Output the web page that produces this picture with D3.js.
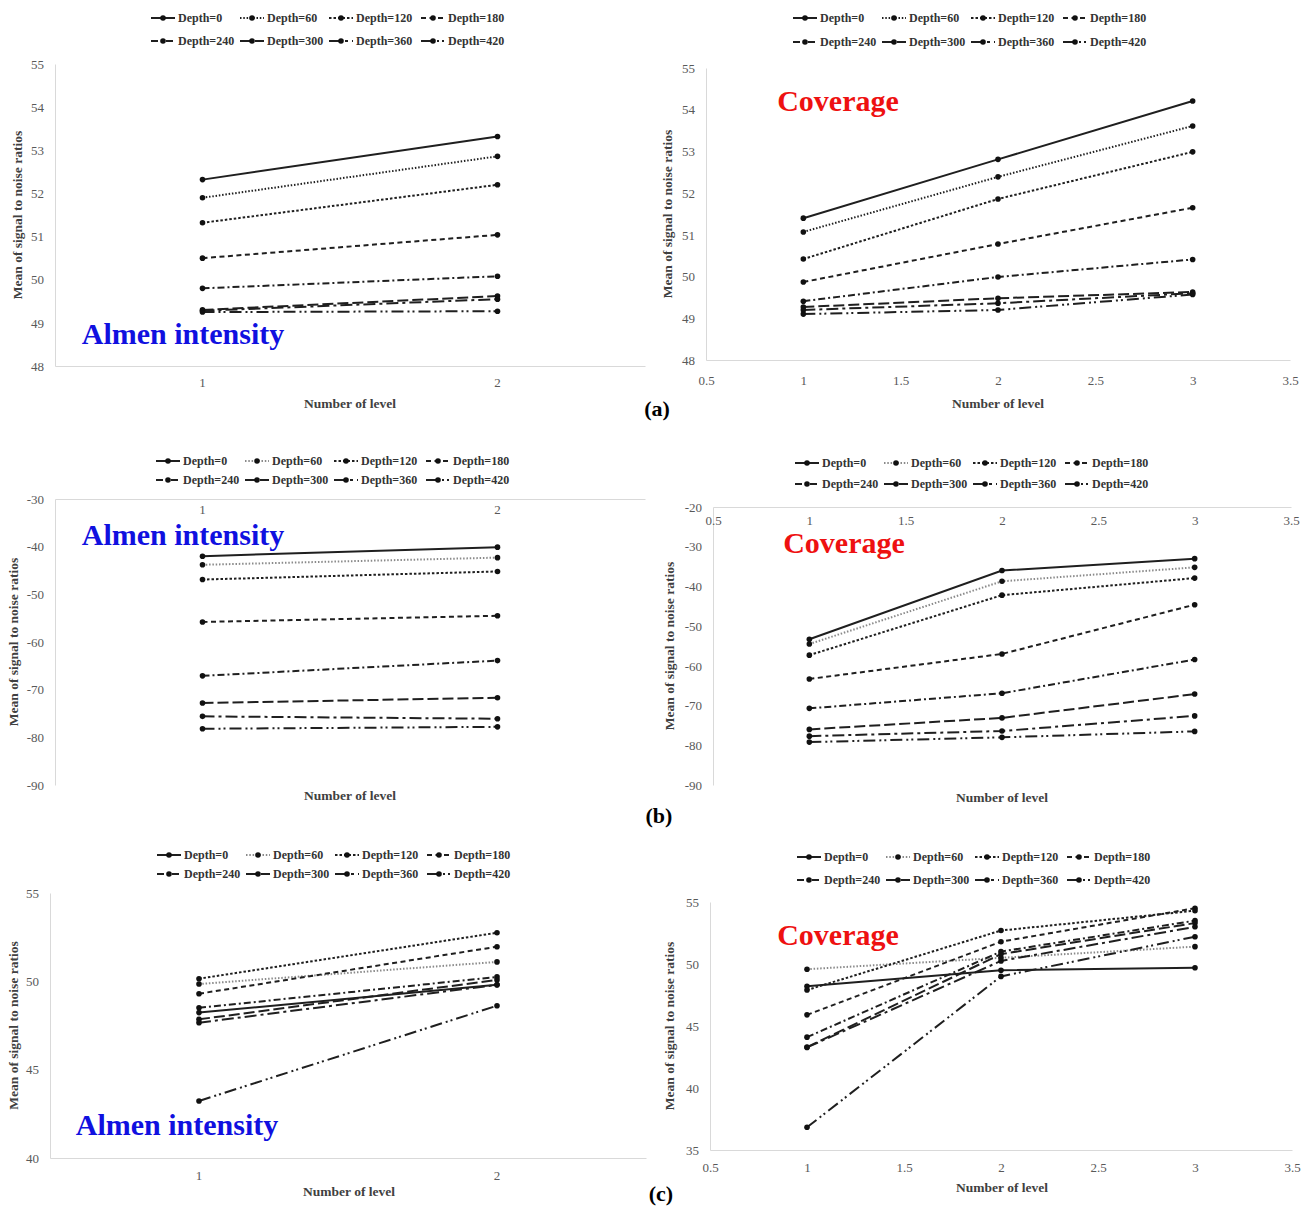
<!DOCTYPE html>
<html>
<head>
<meta charset="utf-8">
<script src="https://cdn.jsdelivr.net/npm/d3@7"></script>
<style>
	body { margin: 0; background: #fff; }
	svg { display: block; }
	text { font-family: "Liberation Serif", "Times New Roman", serif; }
</style>
</head>
<body>
<svg id="chart" width="1314" height="1208"></svg>
<script>
// series names and x categories
const depths = ["Depth=0", "Depth=60", "Depth=120", "Depth=180", "Depth=240", "Depth=300", "Depth=360", "Depth=420"];
const almenLevels = [1, 2];
const coverageLevels = [1, 2, 3];

// tick labels
const coverageTicks = [0.5, 1, 1.5, 2, 2.5, 3, 3.5];
const ticksA = [48, 49, 50, 51, 52, 53, 54, 55];
const ticksBLeft = [-90, -80, -70, -60, -50, -40, -30];
const ticksBRight = [-90, -80, -70, -60, -50, -40, -30, -20];
const ticksCLeft = [40, 45, 50, 55];
const ticksCRight = [35, 40, 45, 50, 55];

// values, one row per depth
const almenA = [
	[52.32, 53.32], [51.9, 52.86], [51.32, 52.2], [50.5, 51.04],
	[49.8, 50.08], [49.3, 49.62], [49.28, 49.55], [49.25, 49.27]
];
const coverageA = [
	[51.4, 52.81, 54.21], [51.07, 52.39, 53.61], [50.42, 51.86, 52.99], [49.87, 50.78, 51.65],
	[49.41, 49.99, 50.41], [49.27, 49.48, 49.63], [49.2, 49.36, 49.6], [49.1, 49.2, 49.57]
];
const almenB = [
	[-42.0, -40.1], [-43.8, -42.3], [-46.9, -45.2], [-55.8, -54.5],
	[-67.1, -63.9], [-72.8, -71.7], [-75.6, -76.1], [-78.2, -77.8]
];
const coverageB = [
	[-53.3, -36.0, -33.0], [-54.5, -38.7, -35.2], [-57.3, -42.2, -37.9], [-63.3, -57.0, -44.6],
	[-70.7, -66.9, -58.4], [-76.0, -73.1, -67.1], [-77.7, -76.4, -72.6], [-79.2, -78.0, -76.5]
];
const almenC = [
	[48.23, 49.81], [49.85, 51.1], [50.15, 52.75], [49.3, 51.96],
	[48.5, 50.25], [47.85, 50.08], [47.66, 49.8], [43.23, 48.62]
];
const coverageC = [
	[48.2, 49.5, 49.7], [49.58, 50.5, 51.4], [47.9, 52.7, 54.3], [45.9, 51.8, 54.5],
	[44.1, 51.0, 53.5], [43.3, 50.8, 53.3], [43.27, 50.25, 53.0], [36.83, 49.0, 52.2]
];

// line styles per depth
const dashes = ["none", "1.5,1.8", "2.5,2", "5,3.5", "7,3,2,3", "11,4", "12,4,3,4", "12,4,2,3,2,4"];
const legendCols = [0, 89, 178, 270];

const svg = d3.select("#chart");

const panels = [
	{ kind: "almen", levels: almenLevels, values: almenA, ticks: ticksA, x0: 55, x1: 645, yTop: 64, yBot: 366,
		axisAt: "bottom", tickY: 382, titleX: 350, titleY: 403, yTitleX: 17, legendX: 151, legendY: [18, 41],
		note: "Almen intensity", noteX: 183, noteY: 333, grey60: false },
	{ kind: "coverage", levels: coverageLevels, values: coverageA, ticks: ticksA, x0: 706, x1: 1290, yTop: 68, yBot: 360,
		axisAt: "bottom", tickY: 380, titleX: 998, titleY: 403, yTitleX: 667, legendX: 793, legendY: [18, 42],
		note: "Coverage", noteX: 838, noteY: 100, grey60: false },
	{ kind: "almen", levels: almenLevels, values: almenB, ticks: ticksBLeft, x0: 55, x1: 645, yTop: 499, yBot: 785,
		axisAt: "top", tickY: 509, titleX: 350, titleY: 795, yTitleX: 13, legendX: 156, legendY: [461, 480],
		note: "Almen intensity", noteX: 183, noteY: 534, grey60: true },
	{ kind: "coverage", levels: coverageLevels, values: coverageB, ticks: ticksBRight, x0: 713, x1: 1291, yTop: 507, yBot: 785,
		axisAt: "top", tickY: 520, titleX: 1002, titleY: 797, yTitleX: 669, legendX: 795, legendY: [463, 484],
		note: "Coverage", noteX: 844, noteY: 542, grey60: true },
	{ kind: "almen", levels: almenLevels, values: almenC, ticks: ticksCLeft, x0: 50, x1: 646, yTop: 893, yBot: 1158,
		axisAt: "bottom", tickY: 1175, titleX: 349, titleY: 1191, yTitleX: 13, legendX: 157, legendY: [855, 874],
		note: "Almen intensity", noteX: 177, noteY: 1124, grey60: true },
	{ kind: "coverage", levels: coverageLevels, values: coverageC, ticks: ticksCRight, x0: 710, x1: 1292, yTop: 902, yBot: 1150,
		axisAt: "bottom", tickY: 1167, titleX: 1002, titleY: 1187, yTitleX: 669, legendX: 797, legendY: [857, 880],
		note: "Coverage", noteX: 838, noteY: 934, grey60: true }
];

function lineColor(p, i) {
	return p.grey60 && i === 1 ? "#8a8a8a" : "#1f1f1f";
}

function drawPanel(p) {
	const g = svg.append("g");
	const y = d3.scaleLinear().domain(d3.extent(p.ticks)).range([p.yBot, p.yTop]);

	let x, xPos, xAxis;
	if (p.kind === "almen") {
		x = d3.scaleBand().domain(p.levels).range([p.x0, p.x1]);
		xPos = (d) => x(d) + x.bandwidth() / 2;
		xAxis = d3.axisBottom(x);
	} else {
		x = d3.scaleLinear().domain(d3.extent(coverageTicks)).range([p.x0, p.x1]);
		xPos = (d) => x(d);
		xAxis = d3.axisBottom(x).tickValues(coverageTicks).tickFormat((d) => String(d));
	}

	// y axis
	const yAxis = g
		.append("g")
		.attr("transform", `translate(${p.x0},0)`)
		.call(d3.axisLeft(y).tickValues(p.ticks).tickSize(0).tickPadding(11).tickFormat((d) => String(d)));
	yAxis.select(".domain").attr("stroke", "#d9d9d9");
	yAxis.selectAll("text").attr("font-size", "13px").attr("fill", "#595959").attr("font-family", "Liberation Serif");

	// x axis
	const axisY = p.axisAt === "top" ? p.yTop : p.yBot;
	const xg = g
		.append("g")
		.attr("transform", `translate(0,${axisY})`)
		.call(xAxis.tickSize(0).tickPadding(0));
	xg.select(".domain").attr("stroke", "#d9d9d9");
	xg.selectAll("text")
		.attr("y", p.tickY - axisY)
		.attr("dy", "0.35em")
		.attr("font-size", "13px")
		.attr("fill", "#595959")
		.attr("font-family", "Liberation Serif");

	// axis titles
	g.append("text")
		.attr("x", p.titleX)
		.attr("y", p.titleY)
		.attr("dy", "0.35em")
		.attr("text-anchor", "middle")
		.attr("font-size", "13.5px")
		.attr("font-weight", "bold")
		.attr("fill", "#404040")
		.text("Number of level");

	g.append("text")
		.attr("transform", `translate(${p.yTitleX},${(p.yTop + p.yBot) / 2}) rotate(-90)`)
		.attr("dy", "0.35em")
		.attr("text-anchor", "middle")
		.attr("font-size", "13.5px")
		.attr("font-weight", "bold")
		.attr("fill", "#404040")
		.text("Mean of signal to noise ratios");

	// series lines
	const line = d3
		.line()
		.x((d) => xPos(d.level))
		.y((d) => y(d.value));

	p.values.forEach((row, i) => {
		const pts = row.map((v, k) => ({ level: p.levels[k], value: v }));
		g.append("path")
			.attr("d", line(pts))
			.attr("fill", "none")
			.attr("stroke", lineColor(p, i))
			.attr("stroke-width", 2)
			.attr("stroke-dasharray", dashes[i]);
		g.selectAll(null)
			.data(pts)
			.enter()
			.append("circle")
			.attr("cx", (d) => xPos(d.level))
			.attr("cy", (d) => y(d.value))
			.attr("r", 2.8)
			.attr("fill", "#111");
	});

	// annotation
	g.append("text")
		.attr("x", p.noteX)
		.attr("y", p.noteY)
		.attr("dy", "0.35em")
		.attr("text-anchor", "middle")
		.attr("font-size", "30px")
		.attr("font-weight", "bold")
		.attr("fill", p.kind === "almen" ? "#1010e0" : "#ee1111")
		.text(p.note);

	// legend, two rows of four
	depths.forEach((name, i) => {
		const r = Math.floor(i / 4);
		const lx = p.legendX + legendCols[i % 4];
		const ly = p.legendY[r];
		g.append("line")
			.attr("x1", lx)
			.attr("x2", lx + 24)
			.attr("y1", ly)
			.attr("y2", ly)
			.attr("stroke", lineColor(p, i))
			.attr("stroke-width", 2)
			.attr("stroke-dasharray", dashes[i]);
		g.append("circle").attr("cx", lx + 12).attr("cy", ly).attr("r", 2.8).attr("fill", "#111");
		g.append("text")
			.attr("x", lx + 27)
			.attr("y", ly)
			.attr("dy", "0.35em")
			.attr("font-size", "12px")
			.attr("font-weight", "bold")
			.attr("fill", "#333")
			.text(name);
	});
}

panels.forEach(drawPanel);

// sub-figure labels
const subLabels = ["(a)", "(b)", "(c)"];
const subLabelY = [408, 815, 1193];
subLabels.forEach((t, i) => {
	svg.append("text")
		.attr("x", 657 + i * 2)
		.attr("y", subLabelY[i])
		.attr("dy", "0.35em")
		.attr("text-anchor", "middle")
		.attr("font-size", "22px")
		.attr("font-weight", "bold")
		.attr("fill", "#000")
		.text(t);
});
</script>
</body>
</html>
